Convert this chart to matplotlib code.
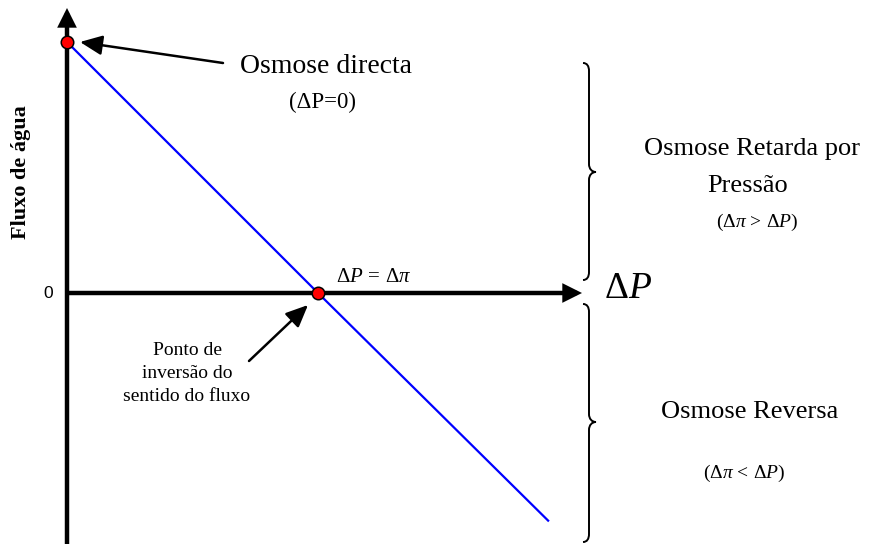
import matplotlib
matplotlib.use("Agg")
import matplotlib.pyplot as plt
from matplotlib.path import Path
from matplotlib.patches import PathPatch, FancyArrowPatch

plt.rcParams['mathtext.fontset'] = 'custom'
plt.rcParams['mathtext.rm'] = 'Liberation Serif'
plt.rcParams['mathtext.it'] = 'Liberation Serif:italic'
plt.rcParams['mathtext.bf'] = 'Liberation Serif:bold'

# ---- data (normalised: delta_pi = 1) ----
delta_p = [0.0, 1.0, 1.92]          # pressure difference
flux = [1.0, 0.0, -0.91]            # water flux
marker_idx = [0, 1]                 # forward osmosis point, flux inversion point

SERIF = 'Liberation Serif'

# pixel-layout helpers (origin at pixel 67,293; 251 px per unit)
OX, OY, S = 67.0, 293.0, 251.0
def P(px, py):
    return ((px - OX) / S, (OY - py) / S)

fig = plt.figure(figsize=(8.72, 5.44), dpi=100)
ax = fig.add_axes([0, 0, 1, 1])
ax.set_xlim(-OX / S, (872 - OX) / S)
ax.set_ylim(-(544 - OY) / S, OY / S)
ax.axis('off')

# axes with arrows
def axis_arrow(start, end):
    a = FancyArrowPatch(start, end, arrowstyle='-|>,head_length=0.9,head_width=0.45',
                        mutation_scale=10, lw=3.2, color='black',
                        shrinkA=0, shrinkB=0, joinstyle='miter', capstyle='butt', zorder=2)
    ax.add_patch(a)
axis_arrow(P(67, 560), P(67, 8))
axis_arrow(P(67, 293), P(582, 293))

# data line
ax.plot(delta_p, flux, color='#0000ff', lw=1.6, zorder=3, solid_capstyle='butt')
ax.plot([delta_p[i] for i in marker_idx], [flux[i] for i in marker_idx], 'o',
        ms=9, mfc='#ff0000', mec='black', mew=1.1, zorder=4)

# annotation arrows
def thin_arrow(tail, head):
    a = FancyArrowPatch(tail, head, arrowstyle='-|>,head_length=0.9,head_width=0.4',
                        mutation_scale=15, lw=1.8, color='black',
                        shrinkA=0, shrinkB=0, zorder=2)
    ax.add_patch(a)
thin_arrow(P(223, 63), P(80, 42))
thin_arrow(P(249, 361), P(308, 305))

# braces
def brace(x0, ytop, ybot, ytip):
    xl = x0 + 6
    xt = x0 + 13
    pts = [P(x0, ytop), P(x0 + 4, ytop), P(xl, ytop + 3), P(xl, ytop + 8),
           P(xl, ytip - 8),
           P(xl, ytip - 3), P(xl + 3, ytip), P(xt, ytip),
           P(xl + 3, ytip), P(xl, ytip + 3), P(xl, ytip + 8),
           P(xl, ybot - 8),
           P(xl, ybot - 3), P(x0 + 4, ybot), P(x0, ybot)]
    codes = [Path.MOVETO, Path.CURVE4, Path.CURVE4, Path.CURVE4,
             Path.LINETO,
             Path.CURVE4, Path.CURVE4, Path.CURVE4,
             Path.CURVE4, Path.CURVE4, Path.CURVE4,
             Path.LINETO,
             Path.CURVE4, Path.CURVE4, Path.CURVE4]
    ax.add_patch(PathPatch(Path(pts, codes), fill=False, lw=1.4, ec='black'))
brace(583, 63, 280, 172)
brace(583, 304, 542, 422)

# texts
def txt(px, py, s, size, **kw):
    x, y = P(px, py)
    kw.setdefault('family', SERIF)
    kw.setdefault('ha', 'center')
    kw.setdefault('va', 'baseline')
    ax.text(x, y, s, fontsize=size, **kw)

txt(326, 73, 'Osmose directa', 20)
txt(322, 108, '(ΔP=0)', 16.5)
txt(752, 155, 'Osmose Retarda por', 19)
txt(748, 192, 'Pressão', 19)
txt(757, 227, r'$(\Delta\pi\,>\,\Delta P)$', 14)
txt(750, 418, 'Osmose Reversa', 19)
txt(744, 478, r'$(\Delta\pi\,<\,\Delta P)$', 14)
txt(628, 298, r'$\Delta P$', 27)
txt(374, 282, r'$\Delta P\,=\,\Delta\pi$', 15)
txt(187, 355, 'Ponto de', 14)
txt(187, 378, 'inversão do', 14)
txt(187, 401, 'sentido do fluxo', 14)
txt(48, 294, '0', 12.5, family='Liberation Sans', va='center')
txt(21, 172, 'Fluxo de água', 16, weight='bold', rotation=90, va='center')

fig.savefig('out.png', dpi=100)
